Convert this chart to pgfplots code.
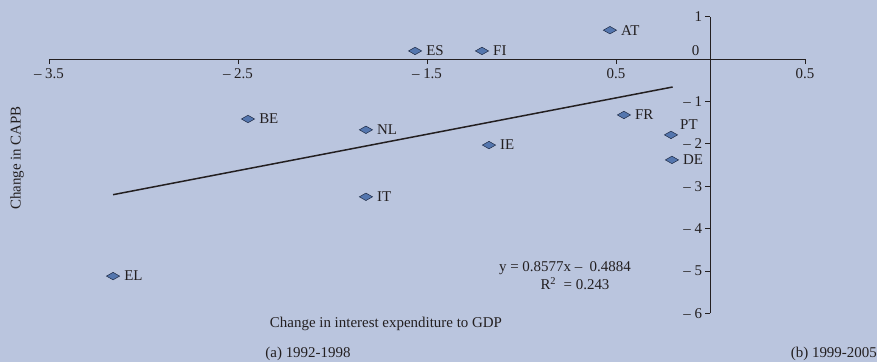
\documentclass[border=0pt]{standalone}
\usepackage{pgfplots}
\pgfplotsset{compat=1.18}
\usepackage{fontspec}
\setmainfont{Liberation Serif}
\definecolor{bg}{HTML}{BAC5DE}
\definecolor{mk}{HTML}{5476AE}
\definecolor{mkd}{HTML}{1E2A44}
\definecolor{txt}{HTML}{231F20}

\begin{document}
\begin{tikzpicture}[x=1bp,y=1bp,font=\fontsize{15}{17}\selectfont,text=txt]
\fill[bg] (-710.5,-303) rectangle (166.5,59);
\begin{axis}[
    at={(0,0)}, anchor=origin,
    x=189bp, y=42.4bp,
    xmin=-3.5, xmax=0.5, ymin=-6, ymax=1,
    axis lines=middle,
    axis line style={-, line width=0.9pt, txt},
    enlargelimits=false,
    clip=false,
    tick align=outside,
    major tick length=5bp,
    every tick/.style={txt, line width=0.9pt},
    xtick={-3.5,-2.5,-1.5,-0.5,0.5},
    xticklabels={– 3.5,– 2.5,– 1.5,0.5,0.5},
    ytick={-6,-5,-4,-3,-2,-1,0,1},
    yticklabels={– 6,– 5,– 4,– 3,– 2,– 1,,1},
    ticklabel style={font=\fontsize{15}{17}\selectfont, text=txt},
    xticklabel style={yshift=-1bp},
]
\addplot[only marks, mark=diamond*,
    mark options={mark size=4.4bp, xscale=2, yscale=0.85, fill=mk, draw=mkd, line width=0.5pt},
    point meta=explicit symbolic,
    nodes near coords,
    nodes near coords style={anchor=west, inner sep=0pt, xshift=11bp, font=\fontsize{15}{17}\selectfont, text=txt}]
  table[meta=label] {
x y label
-1.563 0.19 ES
-1.209 0.19 FI
-0.532 0.68 AT
-2.447 -1.415 BE
-1.823 -1.67 NL
-1.172 -2.03 IE
-0.458 -1.32 FR
-0.204 -2.38 DE
-1.823 -3.25 IT
-3.161 -5.12 EL
};
\addplot[only marks, mark=diamond*,
    mark options={mark size=4.4bp, xscale=2, yscale=0.85, fill=mk, draw=mkd, line width=0.5pt},
    point meta=explicit symbolic,
    nodes near coords,
    nodes near coords style={anchor=west, inner sep=0pt, xshift=9bp, yshift=10bp, font=\fontsize{15}{17}\selectfont, text=txt}]
  table[meta=label] {
x y label
-0.209 -1.79 PT
};
\addplot[txt, line width=1.5pt] coordinates {(-3.161,-3.2) (-0.2,-0.66)};
\end{axis}
\node[anchor=east, inner sep=0pt] at (-11,8) {0};
\node[inner sep=0pt] at (-324.5,-265) {Change in interest expenditure to GDP};
\node[inner sep=0pt] at (-402.5,-295) {(a) 1992-1998};
\node[anchor=east, inner sep=0pt] at (166.5,-295) {(b) 1999-2005};
\node[inner sep=0pt] at (-145.5,-209) {y = 0.8577x –\ \ 0.4884};
\node[inner sep=0pt] at (-135.5,-225) {R\textsuperscript{2}\ \ = 0.243};
\node[rotate=90, inner sep=0pt] at (-693.5,-99) {Change in CAPB};
\pgfresetboundingbox
\path[use as bounding box] (-710.5,-303) rectangle (166.5,59);
\end{tikzpicture}
\end{document}
